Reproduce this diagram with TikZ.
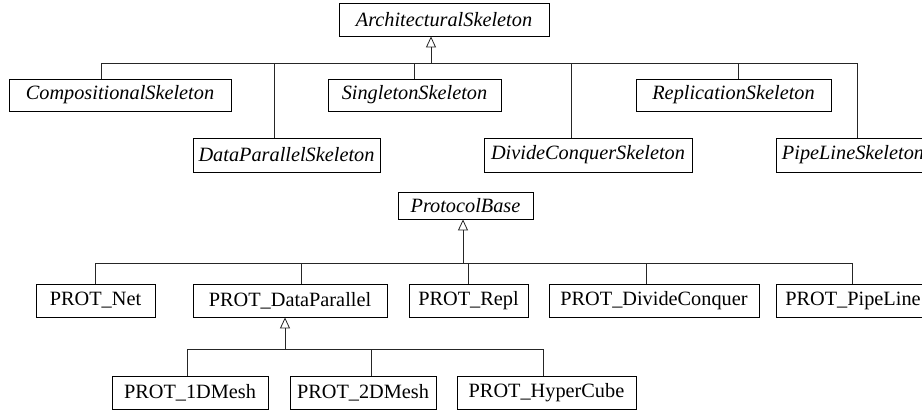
\documentclass[tikz,border=0pt]{standalone}
\usepackage{fontspec}
\setmainfont{Liberation Serif}
\usetikzlibrary{arrows.meta}

\begin{document}
\begin{tikzpicture}[x=1pt, y=-1pt,
   cls/.style={draw=black, line width=0.8pt, inner sep=0pt, minimum height=33pt,
               font=\fontsize{20.3}{24}\selectfont},
   abscls/.style={cls, font=\fontsize{20.3}{24}\selectfont\itshape},
   link/.style={draw=black!85, line width=0.8pt},
   inherit/.style={link, -{Triangle[open, length=11pt, width=10pt]}}]

   \useasboundingbox (0,0) rectangle (922,410);
   \clip (0,0) rectangle (922,410);

   % skeleton hierarchy
   \node[abscls, minimum width=210pt] (arch) at (444,19.5) {ArchitecturalSkeleton};
   \node[abscls, minimum width=222pt, minimum height=32pt] (comp) at (120,95) {CompositionalSkeleton};
   \node[abscls, minimum width=187pt, minimum height=34pt] (dpar) at (286.5,155) {DataParallelSkeleton};
   \node[abscls, minimum width=173pt, minimum height=32pt] (sing) at (414.5,95) {SingletonSkeleton};
   \node[abscls, minimum width=208pt, minimum height=34pt] (dcon) at (588,155) {DivideConquerSkeleton};
   \node[abscls, minimum width=195pt, minimum height=32pt] (repl) at (733.5,95) {ReplicationSkeleton};
   \node[abscls, minimum width=154pt, minimum height=34pt] (pipe) at (853,155) {PipeLineSkeleton};

   \coordinate (tbus) at (0,63);
   \draw[link] ([xshift=-19pt]comp.north |- tbus) -- ([xshift=4pt]pipe.north |- tbus);
   \draw[inherit] ([xshift=-13pt]arch.south |- tbus) -- ([xshift=-13pt]arch.south);
   \draw[link] ([xshift=-19pt]comp.north) -- ([xshift=-19pt]comp.north |- tbus);
   \draw[link] ([xshift=-12.5pt]dpar.north) -- ([xshift=-12.5pt]dpar.north |- tbus);
   \draw[link] (sing.north) -- (sing.north |- tbus);
   \draw[link] ([xshift=-17pt]dcon.north) -- ([xshift=-17pt]dcon.north |- tbus);
   \draw[link] ([xshift=4.5pt]repl.north) -- ([xshift=4.5pt]repl.north |- tbus);
   \draw[link] ([xshift=4pt]pipe.north) -- ([xshift=4pt]pipe.north |- tbus);

   % protocol hierarchy
   \node[abscls, minimum width=135pt, minimum height=27pt] (base) at (465.5,205.5) {ProtocolBase};
   \node[cls, minimum width=119pt] (net) at (95.5,300.5) {PROT\_Net};
   \node[cls, minimum width=194pt] (pdp) at (290,300.5) {PROT\_DataParallel};
   \node[cls, minimum width=119pt] (prepl) at (468.5,300.5) {PROT\_Repl};
   \node[cls, minimum width=210pt] (pdc) at (654,300.5) {PROT\_DivideConquer};
   \node[cls, minimum width=154pt] (ppl) at (853,300.5) {PROT\_PipeLine};
   \node[cls, minimum width=156pt] (mesha) at (190,392.5) {PROT\_1DMesh};
   \node[cls, minimum width=146pt] (meshb) at (363,392.5) {PROT\_2DMesh};
   \node[cls, minimum width=179pt] (hcube) at (546.5,392.5) {PROT\_HyperCube};

   \coordinate (pbus) at (0,263);
   \draw[link] (net.north |- pbus) -- ([xshift=-1pt]ppl.north |- pbus);
   \draw[inherit] ([xshift=-2.5pt]base.south |- pbus) -- ([xshift=-2.5pt]base.south);
   \draw[link] (net.north) -- (net.north |- pbus);
   \draw[link] ([xshift=11pt]pdp.north) -- ([xshift=11pt]pdp.north |- pbus);
   \draw[link] (prepl.north) -- (prepl.north |- pbus);
   \draw[link] ([xshift=-8pt]pdc.north) -- ([xshift=-8pt]pdc.north |- pbus);
   \draw[link] ([xshift=-1pt]ppl.north) -- ([xshift=-1pt]ppl.north |- pbus);

   \coordinate (mbus) at (0,349);
   \draw[link] ([xshift=-3pt]mesha.north |- mbus) -- ([xshift=-3.5pt]hcube.north |- mbus);
   \draw[inherit] ([xshift=-5pt]pdp.south |- mbus) -- ([xshift=-5pt]pdp.south);
   \draw[link] ([xshift=-3pt]mesha.north) -- ([xshift=-3pt]mesha.north |- mbus);
   \draw[link] ([xshift=8pt]meshb.north) -- ([xshift=8pt]meshb.north |- mbus);
   \draw[link] ([xshift=-3.5pt]hcube.north) -- ([xshift=-3.5pt]hcube.north |- mbus);
\end{tikzpicture}
\end{document}
